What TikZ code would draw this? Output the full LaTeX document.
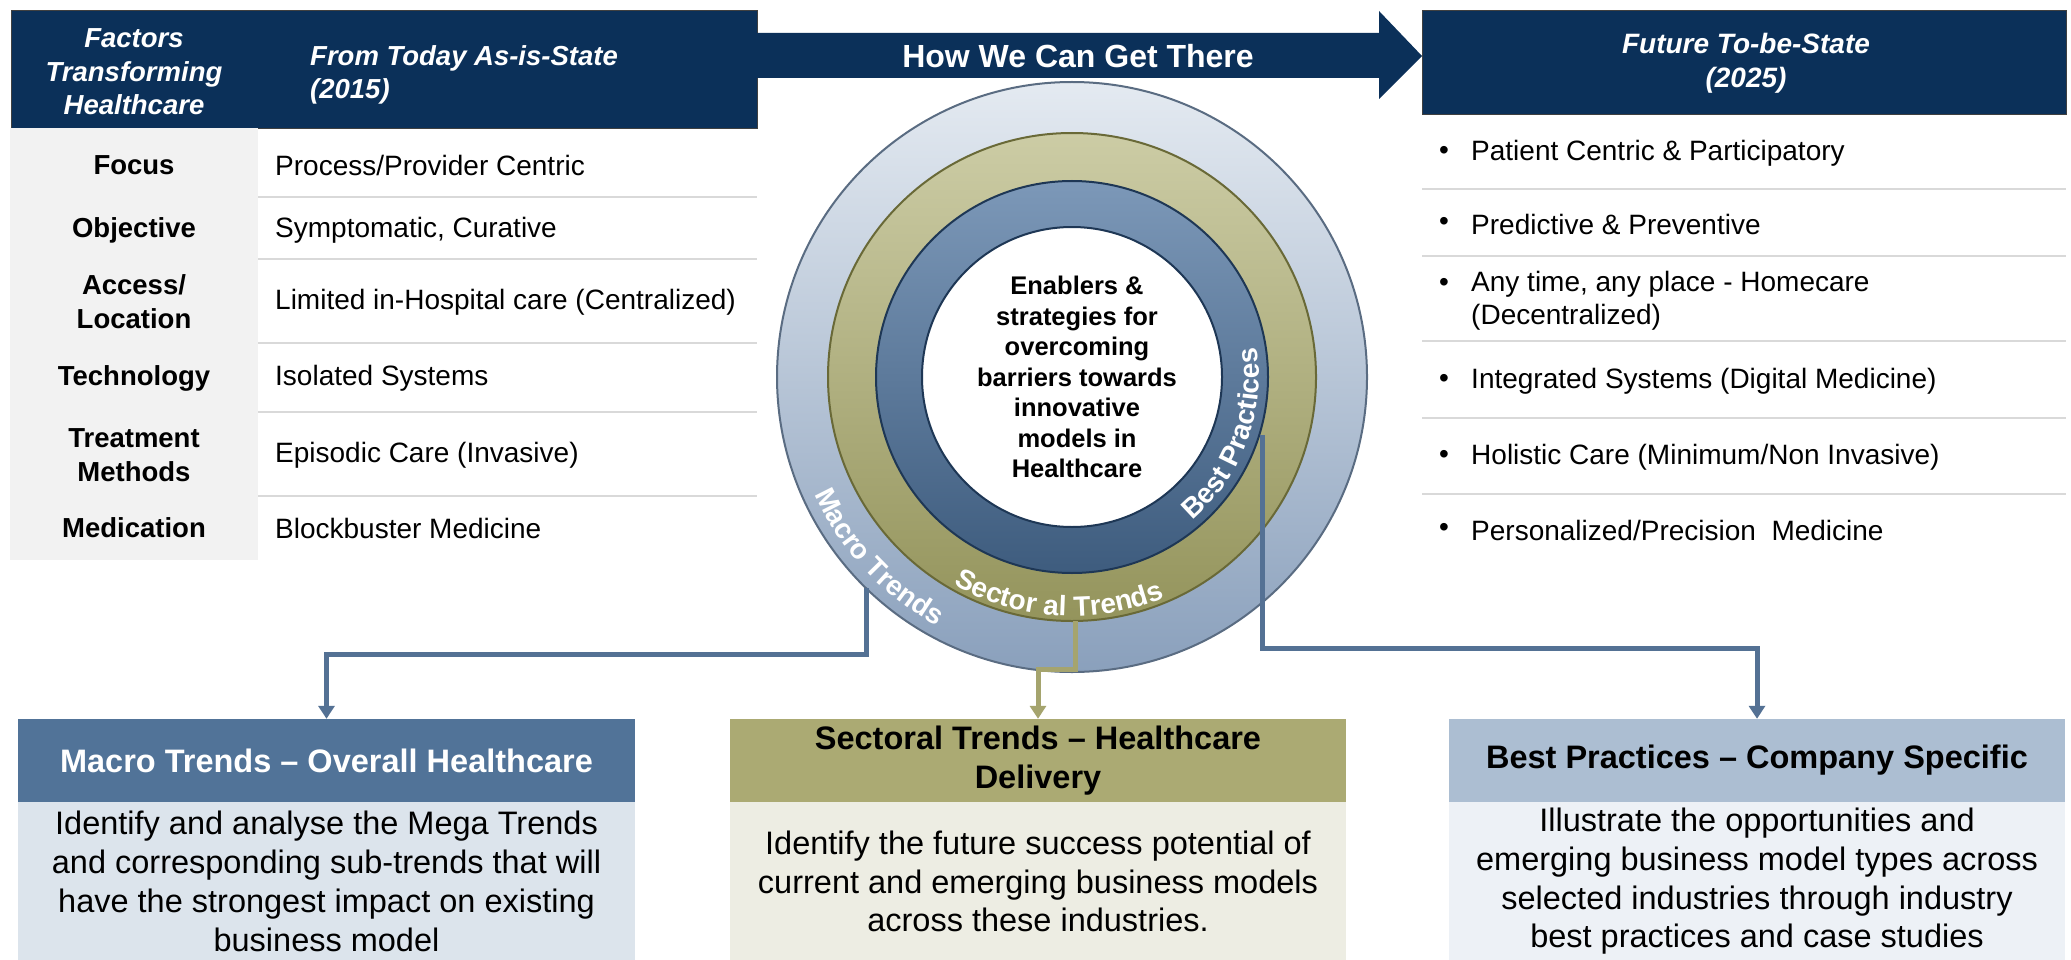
\documentclass[tikz,border=0pt]{standalone}
\usepackage{fontspec}
\setmainfont{Liberation Sans}
\usetikzlibrary{arrows.meta,decorations.text}
\definecolor{navy}{RGB}{11,48,89}
\definecolor{grayfill}{RGB}{242,242,242}
\definecolor{sepgray}{RGB}{217,217,217}
\definecolor{macroH}{RGB}{81,115,152}
\definecolor{macroB}{RGB}{220,228,236}
\definecolor{sectH}{RGB}{171,170,115}
\definecolor{sectB}{RGB}{237,237,227}
\definecolor{bestH}{RGB}{172,190,210}
\definecolor{bestB}{RGB}{237,241,246}
\definecolor{connBlue}{RGB}{84,113,148}
\definecolor{connOlive}{RGB}{165,164,110}
\definecolor{outT}{RGB}{228,234,241}
\definecolor{outB}{RGB}{138,160,188}
\definecolor{outL}{RGB}{90,108,130}
\definecolor{olvT}{RGB}{204,204,165}
\definecolor{olvB}{RGB}{148,148,92}
\definecolor{olvL}{RGB}{105,105,55}
\definecolor{bluT}{RGB}{124,152,184}
\definecolor{bluB}{RGB}{62,92,126}
\definecolor{bluL}{RGB}{30,55,85}
\newcommand\myfs[2]{\fontsize{#1}{#2}\selectfont}
\begin{document}
\begin{tikzpicture}[x=1pt,y=1pt,
  hd/.style={fill=navy, draw=black!75, line width=1.2pt, inner sep=0pt, anchor=north west},
  hdrtxt/.style={text=white, font=\myfs{27.5}{33.5}\bfseries\itshape, inner sep=0pt},
  lbl/.style={font=\myfs{27.5}{34}\bfseries, align=center, inner sep=0pt},
  cell/.style={font=\myfs{28}{33}, anchor=west, inner sep=0pt},
  bul/.style={font=\myfs{28}{33}, inner sep=0pt},
  sepline/.style={draw=sepgray, line width=2.5pt},
  bhead/.style={minimum width=617pt, minimum height=83pt, inner sep=0pt, font=\myfs{32.5}{39}\bfseries, align=center},
  bbody/.style={minimum width=617pt, minimum height=158pt, inner sep=0pt, font=\myfs{32.5}{38.7}, align=center, anchor=north},
  conn/.style={line width=5pt, -{Triangle[width=16pt,length=13pt]}}
]
\useasboundingbox (0,0) rectangle (2071,-960);
\fill[white] (0,0) rectangle (2071,-960);

% ---------- left header and table ----------
\node[hd, minimum width=746pt, minimum height=118pt] (lh) at (11,-10) {};
\node[hdrtxt, align=center] (lht) at (134,-72) {Factors\\Transforming\\Healthcare};
\node[hdrtxt, align=left, anchor=west] (lhs) at (310,-75) {From Today As-is-State\\(2015)};
\node[fill=grayfill, anchor=north west, minimum width=248pt, minimum height=432pt, inner sep=0pt] (gc) at (10,-128) {};

\foreach \yy in {197,259,343,412,496} \draw[sepline] (258,-\yy) -- (757,-\yy);

\node[lbl] (f1) at (134,-165) {Focus};
\node[lbl] (f2) at (134,-230) {Objective};
\node[lbl] (f3) at (134,-302) {Access/\\Location};
\node[lbl] (f4) at (134,-378) {Technology};
\node[lbl] (f5) at (134,-455) {Treatment\\Methods};
\node[lbl] (f6) at (134,-528) {Medication};

\node[cell] (c1) at (275,-165) {Process/Provider Centric};
\node[cell] (c2) at (275,-230) {Symptomatic, Curative};
\node[cell] (c3) at (275,-302) {Limited in-Hospital care (Centralized)};
\node[cell] (c4) at (275,-378) {Isolated Systems};
\node[cell] (c5) at (275,-455) {Episodic Care (Invasive)};
\node[cell] (c6) at (275,-528) {Blockbuster Medicine};

% ---------- arrow band ----------
\fill[navy] (757,-33) -- (1379,-33) -- (1379,-11) -- (1422,-56) -- (1379,-99) -- (1379,-78) -- (757,-78) -- cycle;
\node[text=white, font=\myfs{32}{38}\bfseries, inner sep=0pt] (how) at (1078,-56) {How We Can Get There};

% ---------- right header and list ----------
\node[hd, minimum width=644pt, minimum height=104pt] (rh) at (1422,-10) {};
\node[hdrtxt, align=center, font=\myfs{28}{34}\bfseries\itshape] (rht) at (1746,-63) {Future To-be-State\\(2025)};
\foreach \yy in {189,256,341,418,494} \draw[sepline] (1422,-\yy) -- (2066,-\yy);

\node[bul] (b1) at (1444,-153) {•};
\node[cell] (r1) at (1471,-153) {Patient Centric \& Participatory};
\node[bul] (b2) at (1444,-224) {•};
\node[cell] (r2) at (1471,-224) {Predictive \& Preventive};
\node[bul] (b3) at (1444,-285) {•};
\node[cell, align=left] (r3) at (1471,-301) {Any time, any place - Homecare\\(Decentralized)};
\node[bul] (b4) at (1444,-381) {•};
\node[cell] (r4) at (1471,-381) {Integrated Systems (Digital Medicine)};
\node[bul] (b5) at (1444,-457) {•};
\node[cell] (r5) at (1471,-457) {Holistic Care (Minimum/Non Invasive)};
\node[bul] (b6) at (1444,-530) {•};
\node[cell] (r6) at (1471,-530) {Personalized/Precision\ \ Medicine};

% ---------- rings ----------
\coordinate (c) at (1072,-377);
\shadedraw[top color=outT, bottom color=outB, draw=outL, line width=2pt] (c) circle[radius=295pt];
\shadedraw[top color=olvT, bottom color=olvB, draw=olvL, line width=2pt] (c) circle[radius=244pt];
\shadedraw[top color=bluT, bottom color=bluB, draw=bluL, line width=2pt] (c) circle[radius=196pt];
\filldraw[fill=white, draw=bluL, line width=2pt] (c) circle[radius=150pt];

\node[font=\myfs{25.5}{30.5}\bfseries, align=center, inner sep=0pt] (ctr) at (1077,-377)
  {Enablers \&\\strategies for\\overcoming\\barriers towards\\innovative\\models in\\Healthcare};

\path[decorate, decoration={text along path, text={|\myfs{28}{28}\bfseries|Macro Trends}, text align=center, text color=white}]
  ([shift={(c)}]188:283pt) arc[start angle=188, end angle=258, radius=283pt];
\path[decorate, decoration={text along path, text={|\myfs{28}{28}\bfseries|Sector al Trends}, text align=center, text color=white}]
  ([shift={(c)}]226:239pt) arc[start angle=226, end angle=307, radius=239pt];
\path[decorate, decoration={text along path, text={|\myfs{28}{28}\bfseries|Best Practices}, text align=center, text color=white}]
  ([shift={(c)}]-62:187pt) arc[start angle=-62, end angle=21, radius=187pt];

% ---------- bottom boxes ----------
\node[bhead, fill=macroH, text=white] (mh) at (326.5,-760.5) {Macro Trends – Overall Healthcare};
\node[bbody, fill=macroB] (mb) at (mh.south) {Identify and analyse the Mega Trends\\and corresponding sub-trends that will\\have the strongest impact on existing\\business model};

\node[bhead, fill=sectH, minimum width=616pt] (sh) at (1038,-760.5) {Sectoral Trends – Healthcare\\Delivery};
\node[bbody, fill=sectB, minimum width=616pt] (sb) at (sh.south) {Identify the future success potential of\\current and emerging business models\\across these industries.};

\node[bhead, fill=bestH, minimum width=616pt] (bh) at (1757,-760.5) {Best Practices – Company Specific};
\node[bbody, fill=bestB, minimum width=616pt] (bb) at (bh.south) {Illustrate the opportunities and\\emerging business model types across\\selected industries through industry\\best practices and case studies};

% ---------- connectors ----------
\coordinate (mt) at (866,-588);
\coordinate (st) at (1075,-621);
\coordinate (bt) at (1262,-435);
\draw[conn, draw=connBlue] (mt) -- (866,-654) -| (mh.north);
\draw[conn, draw=connOlive] (st) -- (1075,-669) -| (sh.north);
\draw[conn, draw=connBlue] (bt) -- (1262,-648) -| (bh.north);
\end{tikzpicture}
\end{document}
